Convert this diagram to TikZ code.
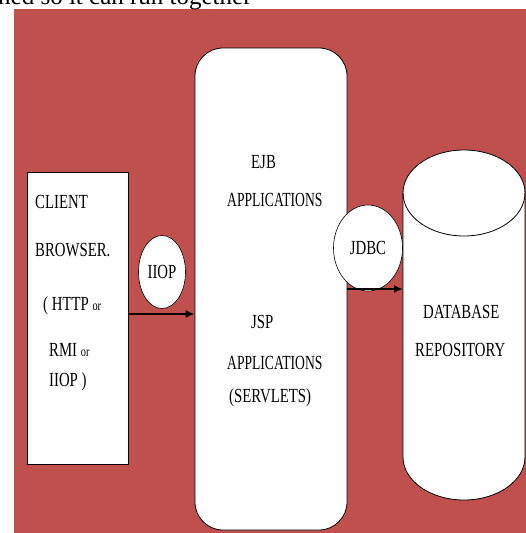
\documentclass[tikz,border=0pt]{standalone}
\usepackage{fontspec}
\setmainfont{Liberation Serif}
\usepackage{tikz}
\usetikzlibrary{shapes.geometric,arrows.meta}
\definecolor{slide}{HTML}{C0504D}
\newcommand{\sq}[1]{\scalebox{0.74}[1]{#1}}
\newcommand{\smallor}{{\fontsize{14}{14}\selectfont or}}

\begin{document}
\begin{tikzpicture}[x=1pt, y=-1pt,
    lbl/.style={font=\fontsize{20}{20}\selectfont, inner sep=0pt, anchor=west},
    box/.style={draw=black, line width=0.8pt, fill=white, inner sep=0pt},
    proto/.style={ellipse, draw=black, line width=0.6pt, fill=white, inner sep=0pt,
        font=\fontsize{20}{20}\selectfont},
    flow/.style={-{Latex[length=9pt, width=8pt]}, line width=2.8pt, black}]
    % Frame
    \useasboundingbox (0,0) rectangle (526,533);
    \clip (0,0) rectangle (526,533);
    \fill[slide] (14,9) rectangle (526,533);

    % Caption line cut off at the top
    \node[font=\fontsize{25}{25}\selectfont, inner sep=0pt, anchor=base west]
        at (-2,4) {ned so it can run together};

    % Client
    \node[box, minimum width=101pt, minimum height=292pt] (client) at (77.5,318) {};
    \node[lbl] at (35,202) {\sq{CLIENT}};
    \node[lbl] at (35,250) {\sq{BROWSER.}};
    \node[lbl] at (43,306) {\sq{( HTTP \smallor}};
    \node[lbl] at (49,350) {\sq{RMI \smallor}};
    \node[lbl] at (49,382) {\sq{IIOP )}};

    % Application server
    \node[box, rounded corners=28pt, minimum width=152pt, minimum height=482pt] (app) at (271,289) {};
    \node[lbl] at (251,162) {\sq{EJB}};
    \node[lbl] at (227,200) {\scalebox{0.68}[1]{APPLICATIONS}};
    \node[lbl] at (251,322) {\sq{JSP}};
    \node[lbl] at (227,363) {\scalebox{0.68}[1]{APPLICATIONS}};
    \node[lbl] at (229,398) {\sq{(SERVLETS)}};

    % Database (cylinder)
    \draw[box] (403,193) -- (403,457)
        arc[start angle=180, end angle=0, x radius=61, y radius=43] -- (525,193)
        arc[start angle=0, end angle=-180, x radius=61, y radius=43] -- cycle;
    \draw[line width=0.8pt] (403,193) arc[start angle=180, end angle=0, x radius=61, y radius=43];
    \coordinate (db) at (403,325);
    \node[lbl] at (423,312) {\sq{DATABASE}};
    \node[lbl] at (415,350) {\sq{REPOSITORY}};

    % Protocols
    \node[proto, minimum width=47pt, minimum height=73pt] (iiop) at (162,272) {\sq{IIOP}};
    \node[proto, minimum width=69pt, minimum height=86pt] (jdbc) at (368,248) {\sq{JDBC}};

    % Connections
    \draw[flow] ([yshift=4pt]client.east) -- ([yshift=4pt]client.east -| app.west);
    \draw[flow] (app.east) -- (app.east -| db);
\end{tikzpicture}
\end{document}
